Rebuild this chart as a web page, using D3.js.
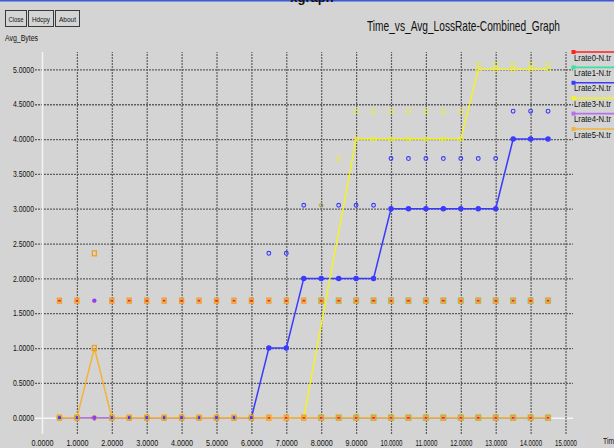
<!DOCTYPE html>
<html>
<head>
<meta charset="utf-8">
<script src="https://cdn.jsdelivr.net/npm/d3@7"></script>
<style>
  html, body { margin: 0; padding: 0; background: #d4d4d4; }
  svg { display: block; }
  text { font-family: "Liberation Sans Narrow", "Arial Narrow", "Liberation Sans", sans-serif; }
</style>
</head>
<body>
<svg id="chart" width="614" height="448"></svg>
<script>
// ---- data ----
const title = "Time_vs_Avg_LossRate-Combined_Graph";
const yAxisName = "Avg_Bytes";
const xAxisName = "Time";
const xTicks = [0,1,2,3,4,5,6,7,8,9,10,11,12,13,14,15];
const yTicks = [0,0.5,1,1.5,2,2.5,3,3.5,4,4.5,5];
const seriesNames = ["Lrate0-N.tr","Lrate1-N.tr","Lrate2-N.tr","Lrate3-N.tr","Lrate4-N.tr","Lrate5-N.tr"];
const seriesColors = ["#ff2020","#3ee0a0","#3a3aff","#f4f41c","#b870ec","#f2b43a"];

// sample times
const times = [0.5,1,1.5,2,2.5,3,3.5,4,4.5,5,5.5,6,6.5,7,7.5,8,8.5,9,9.5,10,10.5,11,11.5,12,12.5,13,13.5,14,14.5];

// Lrate0
const lr0Times = times;
const lr0Vals  = [0,0,0,0,0,0,0,0,0,0,0,0,0,0,0,0,0,0,0,0,0,0,0,0,0,0,0,0,0];
const lr0PtsT  = times;
const lr0PtsV  = [1.68,1.68,1.68,1.68,1.68,1.68,1.68,1.68,1.68,1.68,1.68,1.68,1.68,1.68,1.68,1.68,1.68,1.68,1.68,1.68,1.68,1.68,1.68,1.68,1.68,1.68,1.68,1.68,1.68];

// Lrate1
const lr1Times = [8,8.5,9,9.5,10,10.5,11,11.5,12,12.5,13,13.5,14,14.5];
const lr1Vals  = [0,0,0,0,0,0,0,0,0,0,0,0,0,0];
const lr1PtsT  = [8,8.5,9,9.5,10,10.5,11,11.5,12,12.5,13,13.5,14,14.5];
const lr1PtsV  = [1.68,1.68,1.68,1.68,1.68,1.68,1.68,1.68,1.68,1.68,1.68,1.68,1.68,1.68];

// Lrate2
const lr2Times = times;
const lr2Vals  = [0,0,0,0,0,0,0,0,0,0,0,0,1,1,2,2,2,2,2,3,3,3,3,3,3,3,4,4,4];
const lr2PtsT  = [6.5,7,7.5,8,8.5,9,9.5,10,10.5,11,11.5,12,12.5,13,13.5,14,14.5];
const lr2PtsV  = [2.36,2.36,3.05,3.05,3.05,3.05,3.05,3.72,3.72,3.72,3.72,3.72,3.72,3.72,4.4,4.4,4.4];

// Lrate3
const lr3Times = [0.5,1,1.5,2,2.5,3,3.5,4,4.5,5,5.5,6,6.5,7,7.5,9,9.5,10,10.5,11,11.5,12,12.5,13,13.5,14,14.5];
const lr3Vals  = [0,0,0,0,0,0,0,0,0,0,0,0,0,0,0,4,4,4,4,4,4,4,5,5,5,5,5];
const lr3PtsT  = [8,8.5,9,9.5,10,10.5,11,11.5,12,12.5,13,13.5,14,14.5];
const lr3PtsV  = [3.05,3.72,4.4,4.4,4.4,4.4,4.4,4.4,4.4,5.07,5.07,5.07,5.07,5.07];

// Lrate4
const lr4Times = times;
const lr4Vals  = [0,0,0,0,0,0,0,0,0,0,0,0,0,0,0,0,0,0,0,0,0,0,0,0,0,0,0,0,0];
const lr4PtsT  = [1.5];
const lr4PtsV  = [1.68];

// Lrate5
const lr5Times = times;
const lr5Vals  = [0,0,1,0,0,0,0,0,0,0,0,0,0,0,0,0,0,0,0,0,0,0,0,0,0,0,0,0,0];
const lr5PtsT  = times;
const lr5PtsV  = [1.68,1.68,2.36,1.68,1.68,1.68,1.68,1.68,1.68,1.68,1.68,1.68,1.68,1.68,1.68,1.68,1.68,1.68,1.68,1.68,1.68,1.68,1.68,1.68,1.68,1.68,1.68,1.68,1.68];

const zip = (ts, vs) => ts.map((t, i) => ({ t, v: vs[i] }));
const series = [
  { line: zip(lr0Times, lr0Vals), pts: zip(lr0PtsT, lr0PtsV) },
  { line: zip(lr1Times, lr1Vals), pts: zip(lr1PtsT, lr1PtsV) },
  { line: zip(lr2Times, lr2Vals), pts: zip(lr2PtsT, lr2PtsV) },
  { line: zip(lr3Times, lr3Vals), pts: zip(lr3PtsT, lr3PtsV) },
  { line: zip(lr4Times, lr4Vals), pts: zip(lr4PtsT, lr4PtsV) },
  { line: zip(lr5Times, lr5Vals), pts: zip(lr5PtsT, lr5PtsV) }
];

// ---- layout ----
const svg = d3.select("#chart");
const W = 614, H = 448;
const gridLeft = 35, gridRight = 573, gridTop = 52, gridBottom = 434;
const x = d3.scaleLinear().domain([0, 15]).range([42, 565.5]);
const y = d3.scaleLinear().domain([0, 5]).range([417.7, 69.4]);

// condensed text: squeeze the glyphs to a given width
function narrow(sel, width) {
  return sel.attr("textLength", width).attr("lengthAdjust", "spacingAndGlyphs");
}

svg.append("rect").attr("width", W).attr("height", H).attr("fill", "#d4d4d4");

// window strip along the top edge
svg.append("rect").attr("x", 0).attr("y", 0).attr("width", W).attr("height", 1.5).attr("fill", "#3a5ad8");
svg.append("text").attr("x", 312).attr("y", 2).attr("text-anchor", "middle")
  .attr("font-size", 13).attr("font-weight", "bold").attr("fill", "#111").text("xgraph");

// buttons
const buttons = [{ label: "Close", x0: 5, w: 21, tw: 15 }, { label: "Hdcpy", x0: 28, w: 25, tw: 18 }, { label: "About", x0: 55, w: 24, tw: 17 }];
const btn = svg.append("g").selectAll("g").data(buttons).join("g");
btn.append("rect").attr("x", d => d.x0 + 0.5).attr("y", 10.5).attr("width", d => d.w).attr("height", 16)
  .attr("fill", "#d4d4d4").attr("stroke", "#3a3a3a");
btn.append("text").attr("x", d => d.x0 + 0.5 + (d.w - d.tw) / 2).attr("y", 21.5)
  .attr("font-size", 8).attr("fill", "#111").text(d => d.label)
  .attr("textLength", d => d.tw).attr("lengthAdjust", "spacingAndGlyphs");

narrow(svg.append("text").attr("x", 367).attr("y", 31).attr("font-size", 15).attr("fill", "#111").text(title), 193);
narrow(svg.append("text").attr("x", 5).attr("y", 41).attr("font-size", 8.5).attr("fill", "#111").text(yAxisName), 33);
narrow(svg.append("text").attr("x", 603).attr("y", 444).attr("font-size", 8.5).attr("fill", "#111").text(xAxisName), 15);

// ---- axes / grid ----
const fmt = d3.format(".4f");
const yAxis = d3.axisLeft(y).tickValues(yTicks).tickFormat(fmt)
  .tickSizeInner(-(gridRight - gridLeft)).tickSizeOuter(0).tickPadding(1);
const gy = svg.append("g").attr("transform", `translate(${gridLeft},0)`).call(yAxis);
gy.select(".domain").remove();
gy.selectAll(".tick line").attr("stroke", "#5e5e5e").attr("stroke-width", 1.3).attr("stroke-dasharray", "2,1");
narrow(gy.selectAll(".tick text").attr("font-size", 8.5).attr("fill", "#111").attr("font-family", null), 21);
gy.selectAll(".tick").filter(d => d === 0).select("line")
  .attr("stroke", "#f4f4f4").attr("stroke-dasharray", null).attr("stroke-width", 1.5);

const xAxis = d3.axisBottom(x).tickValues(xTicks).tickFormat(fmt)
  .tickSizeInner(-(gridBottom - gridTop)).tickSizeOuter(0).tickPadding(6);
const gx = svg.append("g").attr("transform", `translate(0,${gridBottom})`).call(xAxis);
gx.select(".domain").remove();
gx.selectAll(".tick line").attr("stroke", "#5e5e5e").attr("stroke-width", 1.2).attr("stroke-dasharray", "2,1");
narrow(gx.selectAll(".tick text").attr("font-size", 8.5).attr("fill", "#111").attr("font-family", null), 22);
gx.selectAll(".tick").filter(d => d === 0).select("line")
  .attr("stroke", "#f4f4f4").attr("stroke-dasharray", null).attr("stroke-width", 1.5);

// ---- series lines ----
const line = d3.line().x(d => x(d.t)).y(d => y(d.v));
const lineWidths = [1, 1.4, 1.5, 1.4, 1.6, 1.5];
const plot = svg.append("g");
series.forEach((s, i) => {
  plot.append("path").datum(s.line).attr("d", line).attr("fill", "none")
    .attr("stroke", seriesColors[i]).attr("stroke-width", lineWidths[i]);
});

// ---- markers ----
// each series has its own marker glyph, drawn for line points and free points
function drawMarkers(i, data, onLine) {
  const g = plot.append("g");
  const c = seriesColors[i];
  if (i === 0) {
    g.selectAll("rect").data(data).join("rect")
      .attr("x", d => x(d.t) - 1.5).attr("y", d => y(d.v) - 1).attr("width", 3).attr("height", 2).attr("fill", c);
  } else if (i === 1) {
    g.selectAll("rect").data(data).join("rect")
      .attr("x", d => x(d.t) - 2.5).attr("y", d => y(d.v) - 2.5).attr("width", 5).attr("height", 5)
      .attr("fill", "none").attr("stroke", c).attr("stroke-width", 1.2).attr("opacity", 0.7);
  } else if (i === 2) {
    g.selectAll("circle").data(data).join("circle")
      .attr("cx", d => x(d.t)).attr("cy", d => y(d.v)).attr("r", onLine ? 2.2 : 1.9)
      .attr("fill", onLine ? c : "none").attr("stroke", c).attr("stroke-width", 1.1);
  } else if (i === 3) {
    g.selectAll("rect").data(data).join("rect")
      .attr("x", d => x(d.t) - 2).attr("y", d => y(d.v) - 2).attr("width", 4).attr("height", 4)
      .attr("fill", "none").attr("stroke", "#e8e850").attr("stroke-width", 0.9);
  } else if (i === 4) {
    g.selectAll("circle").data(data).join("circle")
      .attr("cx", d => x(d.t)).attr("cy", d => y(d.v)).attr("r", 2.2).attr("fill", "#9a3ae8");
  } else {
    g.selectAll("rect").data(data).join("rect")
      .attr("x", d => x(d.t) - 2).attr("y", d => y(d.v) - 2.5).attr("width", 4).attr("height", 5)
      .attr("fill", "none").attr("stroke", "#f0a020").attr("stroke-width", 1.3);
  }
}
series.forEach((s, i) => {
  const lineMarks = (i === 4) ? s.line.filter(d => d.t === 1.5) : s.line;
  drawMarkers(i, lineMarks, true);
  drawMarkers(i, s.pts, false);
});

// ---- legend ----
const legend = svg.append("g").selectAll("g").data(seriesNames).join("g")
  .attr("transform", (d, i) => `translate(573,${52 + i * 15.4})`);
legend.append("line").attr("x1", 0).attr("x2", 41).attr("y1", 0).attr("y2", 0)
  .attr("stroke", (d, i) => seriesColors[i]).attr("stroke-width", 1.6);
legend.append("rect").attr("x", -1.5).attr("y", -2).attr("width", 4).attr("height", 4)
  .attr("fill", (d, i) => seriesColors[i]);
narrow(legend.append("text").attr("x", 1).attr("y", 8.5).attr("font-size", 8.5).attr("fill", "#111").text(d => d), 37);
</script>
</body>
</html>
